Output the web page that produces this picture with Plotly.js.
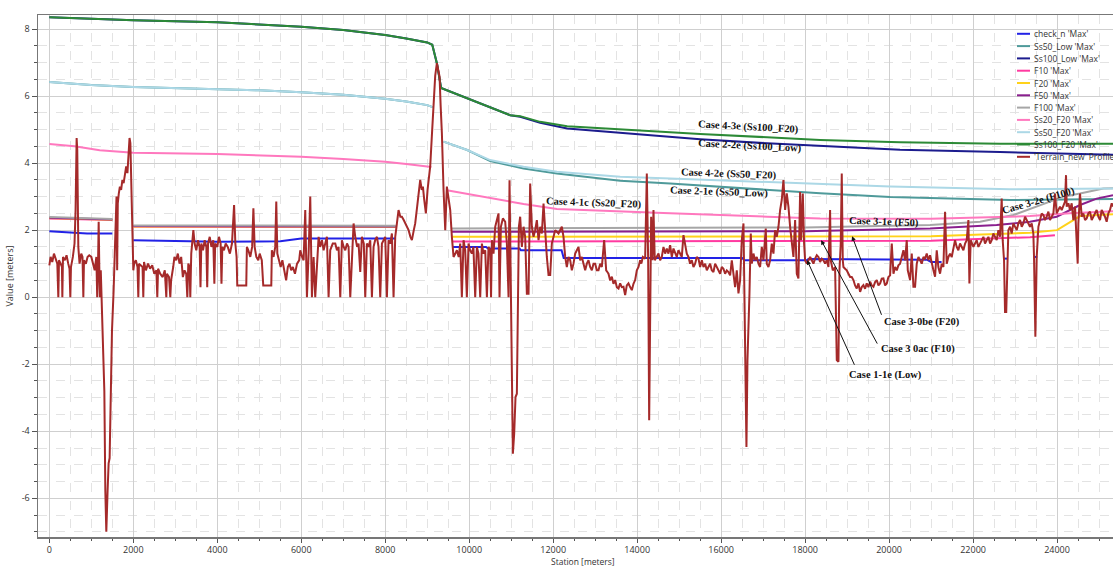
<!DOCTYPE html>
<html><head><meta charset="utf-8">
<script src="https://cdn.plot.ly/plotly-3.0.1.min.js"></script>
<style>html,body{margin:0;padding:0;background:#fff;}#chart{width:1113px;height:567px;}</style>
</head><body><div id="chart"></div>
<script>
// ---------- DATA ----------
const seriesNames = ["check_n 'Max'", "Ss50_Low 'Max'", "Ss100_Low 'Max'", "F10 'Max'", "F20 'Max'", "F50 'Max'", "F100 'Max'", "Ss20_F20 'Max'", "Ss50_F20 'Max'", "Ss100_F20 'Max'", "'Terrain_new' Profile"];
const seriesColors = ["#2222e6", "#4f9a9a", "#1c1c8e", "#ff3aa0", "#ffd21a", "#8a1f8e", "#a6a6a6", "#ff78be", "#acd8e6", "#2c8a36", "#a52a2a"];

const checkStation = [0, 650, 900, 1500, 1700, 2000, 3000, 4000, 5000, 5500, 6000, 7000, 8250, 8800, 9590, 10400, 10450, 11200, 11230, 12200, 12250, 16500, 16550, 18040, 18080, 20900, 21000, 21250, 21300, 22730, 22830, 22900, 23440, 23530];
const checkValue   = [1.97, 1.93, 1.9, 1.9, null, 1.7, 1.68, 1.65, 1.66, 1.67, 1.75, 1.75, 1.75, null, 1.5, 1.5, 1.45, 1.45, 1.4, 1.4, 1.17, 1.17, 1.1, 1.1, 1.14, 1.12, 1.05, 1.05, null, 1.15, 1.15, null, 1.2, 1.2];

const ss50Station = [0, 1000, 2000, 3000, 4000, 5000, 6000, 7000, 8000, 8500, 9000, 9130, 9250, 9389, 9952, 10500, 11294, 12088, 13595, 14786, 17643, 18357, 20024, 22881, 25333];
const ss50LowValue = [6.42, 6.33, 6.27, 6.24, 6.21, 6.17, 6.11, 6.04, 5.92, 5.84, 5.73, 5.67, null, 4.64, 4.39, 4.06, 3.84, 3.69, 3.47, 3.39, 3.16, 3.1, 2.99, 2.9, 2.93];
const ss50F20Value = [6.42, 6.33, 6.27, 6.24, 6.21, 6.17, 6.11, 6.04, 5.92, 5.84, 5.73, 5.67, null, 4.64, 4.39, 4.09, 3.89, 3.74, 3.59, 3.54, 3.41, 3.37, 3.3, 3.22, 3.24];

const ss100Station = [0, 2000, 4000, 6000, 7000, 8000, 8500, 9000, 9120, 9230, 9330, 9952, 10428, 10976, 11214, 11690, 12333, 13905, 15500, 17095, 18357, 20262, 22643, 25333];
const ss100LowValue = [8.35, 8.26, 8.2, 8.07, 7.97, 7.82, 7.72, 7.6, 7.53, 6.98, 6.24, 5.93, 5.68, 5.43, 5.38, 5.2, 5.03, 4.87, 4.71, 4.59, 4.51, 4.4, 4.33, 4.25];
const ss100F20Value = [8.35, 8.26, 8.2, 8.07, 7.97, 7.82, 7.72, 7.6, 7.53, 6.98, 6.24, 5.93, 5.68, 5.43, 5.4, 5.23, 5.1, 4.98, 4.87, 4.77, 4.69, 4.62, 4.58, 4.58];

const ss20Station = [0, 600, 1200, 2000, 4000, 6000, 7000, 8000, 8500, 9100, 9250, 9468, 10500, 11294, 12088, 13595, 14786, 17095, 18357, 21000, 23357, 24309, 25333];
const ss20F20Value = [4.57, 4.5, 4.38, 4.31, 4.27, 4.19, 4.12, 4.04, 3.97, 3.88, null, 3.19, 2.95, 2.78, 2.63, 2.55, 2.5, 2.4, 2.35, 2.34, 2.42, 2.5, 2.56];

const f10Station = [0, 1500, 1700, 2000, 8250, 8800, 9590, 21000, 23357, 23950];
const f10Value   = [2.35, 2.3, null, 2.1, 2.09, null, 1.66, 1.68, 1.79, 1.85];
const f20Station = [0, 1500, 1700, 2000, 8250, 8800, 9590, 21000, 23357, 24000, 24548, 25333];
const f20Value   = [2.36, 2.31, null, 2.11, 2.1, null, 1.8, 1.82, 1.92, 2.0, 2.42, 2.47];
const f50Station = [0, 1500, 1700, 2000, 8250, 8800, 9590, 18000, 20976, 22563, 23357, 23992, 24548, 24944, 25333];
const f50Value   = [2.37, 2.32, null, 2.12, 2.11, null, 1.95, 1.97, 2.05, 2.15, 2.25, 2.4, 2.75, 2.94, 3.04];
const f100Station = [0, 1500, 1700, 2000, 8250, 8800, 9590, 18000, 20976, 22167, 22960, 23595, 24151, 24548, 25103, 25333];
const f100Value   = [2.39, 2.33, null, 2.14, 2.13, null, 2.05, 2.08, 2.15, 2.25, 2.45, 2.75, 3.0, 3.09, 3.24, 3.25];

// terrain profile: [station, value]
const terrainProfile = [
[0,0.95],[30,1.2],[70,1.05],[110,1.3],[150,1.15],[190,1.0],[214,0],[230,1.1],[270,1.0],[300,0.9],[310,0],[325,1.2],[370,1.1],[410,1.25],[450,1.0],[480,0.85],[500,0],[515,0.9],[560,1.2],[600,1.6],[625,2.6],[650,4.75],[665,4.4],[690,1.5],[720,1.0],[760,1.3],[790,1.2],[810,0],[825,1.1],[870,1.0],[910,1.2],[950,1.25],[1000,1.2],[1040,1.0],[1080,0.8],[1120,1.2],[1140,0],[1160,1.0],[1175,2.25],[1190,0.9],[1205,0],[1225,0.8],[1240,0],[1254,0.2],[1310,-2.8],[1333,-5.76],[1357,-7.0],[1388,-5.76],[1412,-4.96],[1436,-4.8],[1469,-2.8],[1492,-1.0],[1531,0.2],
[1560,1.5],[1580,2.6],[1600,3.0],[1615,0.8],[1630,2.8],[1655,3.1],[1680,3.3],[1710,3.2],[1740,3.5],[1770,3.4],[1800,3.6],[1830,3.9],[1860,3.7],[1885,4.2],[1910,4.75],[1930,4.6],[1950,3.5],[1975,2.0],[2000,0.8],
[2020,1.0],[2060,1.1],[2100,0.9],[2119,0],[2135,1.0],[2180,0.95],[2220,0.9],[2238,0],[2255,1.05],[2300,0.8],[2350,1.0],[2400,0.85],[2450,0.95],[2500,0.7],[2550,0.8],[2571,0],[2590,0.85],[2640,0.7],[2700,0.6],[2750,0.8],[2786,0],[2800,0.7],[2850,0.6],[2881,0],[2900,0.5],[2950,0.9],[2980,1.2],[3020,1.1],[3060,1.3],[3100,1.0],[3140,1.2],[3180,0.6],[3220,0.8],[3260,0.7],[3286,0],[3310,1.0],[3340,0.9],[3357,0],[3380,1.3],[3430,2.0],[3460,1.6],[3500,1.4],[3540,1.7],[3580,1.5],[3600,0.3],[3620,1.6],[3660,1.4],[3700,1.7],[3740,1.5],[3760,0.3],[3780,1.6],[3820,1.8],[3860,1.5],[3905,1.7],[3930,0.4],[3950,1.6],[4000,1.5],[4040,1.8],[4080,1.6],[4100,0.4],[4120,1.5],[4160,1.4],[4200,1.6],[4250,1.5],[4300,1.3],[4350,1.6],[4400,2.75],[4430,1.6],[4460,1.2],[4476,0.35],[4690,0.35],[4705,1.5],[4740,1.4],[4786,1.2],[4830,1.5],[4860,2.65],[4890,1.5],[4930,1.2],[4976,1.1],[5010,1.3],[5060,1.1],[5095,0.35],[5286,0.35],[5300,1.4],[5340,1.2],[5380,1.5],[5405,2.85],[5430,1.3],[5470,1.1],[5510,0.9],[5550,1.1],[5600,0.8],[5640,0.5],[5680,0.9],[5720,1.0],[5760,0.8],[5800,0.9],[5850,0.7],[5900,1.0],[5950,1.1],
[5976,1.4],[6020,1.2],[6056,1.1],[6095,2.6],[6135,0],[6175,1.3],[6214,3.0],[6254,0],[6294,1.2],[6333,0],[6373,1.0],[6413,1.8],[6450,1.5],[6492,1.7],[6532,1.4],[6570,1.6],[6611,1.8],[6651,0],[6690,1.4],[6750,1.6],[6810,1.6],[6850,1.4],[6889,1.5],[6929,0],[6968,1.7],[7010,1.5],[7048,1.4],[7090,1.6],[7127,1.5],[7167,0],[7206,1.3],[7246,2.2],[7286,1.8],[7330,1.5],[7365,1.6],[7405,0.75],[7444,1.8],[7490,1.6],[7524,0],[7563,1.6],[7600,1.5],[7643,1.7],[7683,0],[7722,1.5],[7760,1.7],[7802,1.8],[7840,1.5],[7881,0],[7921,1.6],[7960,1.7],[8000,1.8],[8040,0],[8079,1.7],[8120,1.6],[8159,1.9],[8198,0],[8238,1.8],[8278,2.2],[8317,2.6],[8360,2.4],[8397,2.4],[8440,2.3],[8476,2.2],[8520,2.1],[8556,2.0],[8600,1.8],[8635,1.7],[8680,2.0],[8714,2.2],[8760,2.7],[8794,3.1],[8833,3.5],[8870,3.2],[8897,3.3],[8929,2.9],[8968,2.5],[9008,3.2],[9040,3.5],[9071,3.9],[9110,4.8],[9151,5.88],[9190,6.6],[9230,6.98],[9260,6.8],[9294,6.58],[9320,5.7],[9349,4.89],[9389,3.2],[9429,2.0],[9468,3.3],[9508,2.9],[9548,2.6],[9587,1.8],[9627,1.2],[9670,1.3],[9706,1.4],[9750,1.2],[9786,1.6],[9825,0],[9865,1.7],[9905,1.4],[9944,0],[9984,1.6],[10020,1.4],[10063,1.3],[10100,1.5],[10143,0],[10183,1.5],[10220,1.3],[10262,0],[10302,1.6],[10340,1.3],[10381,1.4],[10421,0],[10460,1.5],[10500,1.4],[10520,0],[10540,1.7],[10579,1.3],[10619,2.1],[10659,2.3],[10698,2.5],
[10722,0],[10754,2.1],[10802,2.35],[10857,2.25],[10897,1.6],[10937,0],[10960,3.49],[10992,0],[11016,-2.0],[11040,-4.67],[11071,-4.07],[11103,-2.98],[11135,-2.88],[11159,0.1],[11183,2.1],[11214,2.4],[11254,1.5],[11294,2.1],[11333,1.8],[11373,0.1],[11413,0.1],[11452,3.39],[11492,2.1],[11532,1.8],[11571,2.0],[11611,2.3],[11651,1.7],[11690,2.1],[11730,1.9],[11770,2.79],[11810,1.9],[11849,1.2],[11889,0.66],[11929,0.66],[11968,1.6],[12048,2.0],[12127,1.9],[12206,2.1],[12246,1.8],[12286,1.2],[12325,0.9],[12365,1.2],[12405,1.1],[12444,0.8],[12484,1.0],[12524,1.3],[12564,1.4],[12603,1.5],[12643,1.1],[12683,1.2],[12722,1.0],[12762,0.8],[12801,1.0],[12841,1.1],[12881,0.9],[12921,0.8],[12960,1.0],[13000,1.0],[13040,0.8],[13079,0.8],[13119,1.0],[13159,0.9],[13214,1.7],[13262,0.8],[13290,0.75],[13317,0.7],[13357,0.5],[13397,0.61],[13436,0.4],[13476,0.51],[13516,0.3],[13556,0.26],
[13595,0.41],[13634,0.3],[13674,0.31],[13714,0.06],[13753,0.35],[13793,0.41],[13833,0.3],[13873,0.21],[13912,0.4],[13952,0.51],[13992,0.8],[14032,0.9],[14071,1.1],[14100,1.0],[14135,1.2],[14190,1.15],[14230,3.69],[14262,1.1],[14286,-3.67],[14309,-0.49],[14333,2.4],[14365,1.1],[14389,2.6],[14420,1.1],[14468,1.2],[14508,1.3],[14547,1.1],[14587,1.2],[14627,1.5],[14666,1.3],[14706,1.45],[14745,1.3],[14785,1.55],[14825,1.2],[14865,1.45],[14905,1.3],[14944,1.2],[14984,1.4],[15024,1.3],[15063,1.2],[15103,1.85],[15143,1.5],[15182,1.3],[15222,1.2],[15261,1.0],[15301,1.1],[15341,0.9],[15381,1.0],[15420,1.2],[15460,1.15],[15500,0.9],[15540,1.1],[15579,0.9],[15619,1.0],[15659,0.8],[15698,0.9],[15738,1.0],[15777,0.8],[15817,0.75],[15857,1.0],[15897,0.9],[15936,0.8],[15976,0.7],[16015,0.9],[16055,0.85],[16095,0.7],[16135,0.8],[16174,0.75],[16214,0.65],[16254,1.1],[16294,0.6],[16333,0.3],[16373,0.8],[16413,0.11],[16452,0.51],[16492,1.7],[16532,2.2],[16556,0.11],[16579,-2.38],[16603,-4.47],[16627,-1.88],[16651,-1.09],[16675,0.11],[16706,1.9],[16730,1.0],[16770,1.3],[16809,1.1],[16849,1.2],[16889,1.0],[16928,0.9],[16968,1.5],[17008,1.1],[17063,2.05],[17087,1.0],[17127,0.9],[17166,1.1],[17206,1.6],[17246,1.3],[17286,2.0],[17325,1.8],[17365,2.1],[17405,2.6],[17444,2.9],[17484,3.49],[17524,2.6],[17563,3.1],[17603,2.7],
[17643,2.1],[17683,1.7],[17722,1.2],[17762,2.3],[17802,0.7],[17841,0.56],[17881,3.14],[17905,1.7],[17945,3.09],[17976,1.6],[18000,1.1],[18040,1.0],[18080,1.1],[18120,1.2],[18159,1.1],[18198,1.0],[18238,1.15],[18278,1.25],[18318,1.2],[18357,1.05],[18397,1.15],[18436,1.1],[18476,1.0],[18516,1.1],[18556,0.9],[18595,2.6],[18611,1.1],[18659,0.8],[18714,0.9],[18754,-1.88],[18794,-1.93],[18818,0.8],[18849,1.6],[18873,3.69],[18897,1.1],[18913,0.9],[18952,0.85],[18992,0.8],[19032,0.7],[19072,0.6],[19111,0.6],[19151,0.51],[19190,0.35],[19230,0.26],[19270,0.41],[19310,0.16],[19349,0.3],[19389,0.36],[19428,0.25],[19468,0.41],[19508,0.3],[19548,0.46],[19587,0.35],[19627,0.31],[19667,0.45],[19707,0.51],[19746,0.35],[19786,0.41],[19825,0.55],[19865,0.56],[19905,0.35],[19945,0.41],[19984,0.6],[20024,0.65],[20064,1.6],[20104,0.7],[20143,0.9],[20183,0.8],[20222,0.95],[20262,1.0],[20302,1.2],[20342,1.4],[20381,1.1],[20421,1.7],[20445,0.8],[20500,0.51],[20540,1.3],[20580,0.31],[20619,0.31],[20659,1.0],[20699,1.2],[20738,1.1],[20778,1.0],[20818,1.2],[20857,1.15],[20897,1.3],[20936,1.1],[20976,1.25],
[21015,1.0],[21055,0.81],[21095,0.61],[21135,1.4],[21174,0.9],[21214,0.7],[21254,1.0],[21294,0.9],[21333,2.55],[21373,1.0],[21413,1.2],[21452,1.3],[21492,1.2],[21532,1.5],[21571,1.7],[21611,1.5],[21650,1.4],[21690,1.6],[21730,1.5],[21770,1.4],[21810,1.6],[21849,1.7],[21889,2.3],[21913,0.41],[21944,1.7],[22008,1.5],[22047,1.6],[22087,1.7],[22127,1.5],[22167,1.6],[22206,1.7],[22246,1.8],[22285,1.6],[22325,1.7],[22365,1.8],[22405,1.6],[22444,1.7],[22484,1.9],[22524,1.8],[22563,1.7],[22603,2.0],[22643,1.8],[22682,2.94],[22706,1.7],[22738,1.1],[22762,-0.44],[22790,-0.44],[22817,1.2],[22841,2.0],[22881,2.1],[22920,1.9],[22960,2.2],[23000,2.1],[23040,2.0],[23079,2.2],[23119,2.3],[23159,2.1],[23198,2.2],[23238,2.4],[23278,2.3],[23317,2.2],[23357,2.1],[23397,2.2],[23436,1.9],[23452,1.2],[23484,-1.18],[23516,1.2],[23556,2.1],[23595,2.3],[23635,2.5],[23675,2.45],[23714,2.3],[23754,2.4],[23794,2.55],[23833,2.3],[23873,2.4],[23913,2.5],[23952,3.09],[23992,2.5],[24031,2.6],[24071,2.7],[24111,2.6],[24151,2.75],[24190,2.85],[24214,3.64],[24230,2.7],[24270,2.8],[24309,2.6],[24349,2.8],[24389,2.3],[24429,2.7],[24468,1.6],[24492,1.0],[24508,2.2],[24548,3.09],[24587,2.4],[24627,2.5],[24667,2.3],[24706,2.35],[24746,2.5],[24786,2.55],[24825,2.3],[24865,2.4],[24905,2.5],[24944,2.6],[24984,2.4],[25024,2.3],[25063,2.6],[25103,2.5],[25142,2.4],[25182,2.25],[25222,2.5],[25262,2.6],[25302,2.8],[25340,2.7]
];

const xTickVals = [0, 2000, 4000, 6000, 8000, 10000, 12000, 14000, 16000, 18000, 20000, 22000, 24000];
const xTickText = ["0", "2000", "4000", "6000", "8000", "10000", "12000", "14000", "16000", "18000", "20000", "22000", "24000"];
const yTickVals = [-6, -4, -2, 0, 2, 4, 6, 8];
const yTickText = ["-6", "-4", "-2", "0", "2", "4", "6", "8"];

const caseLabels = ["Case 4-3e (Ss100_F20)", "Case 2-2e (Ss100_Low)", "Case 4-2e (Ss50_F20)", "Case 2-1e (Ss50_Low)", "Case 4-1c (Ss20_F20)", "Case 3-1e (F50)", "Case 3-2e (F100)", "Case 3-0be (F20)", "Case 3 0ac (F10)", "Case 1-1e (Low)"];
const caseStation = [16643, 16690, 16190, 15952, 12976, 19881, 23548, 20786, 20690, 19905];
const caseValue = [5.07, 4.51, 3.67, 3.13, 2.81, 2.24, 2.87, -0.75, -1.55, -2.33];
const caseAngle = [3, 3, 2, 2, 2, 2, -16, 0, 0, 0];

// arrows: tip and tail in data units
const arrowTipStation = [19119, 18381, 18048];
const arrowTipValue = [1.82, 1.70, 1.10];
const arrowTailStation = [19833, 19738, 19190];
const arrowTailValue = [-0.57, -1.43, -2.06];

// ---------- BUILD ----------
const seriesX = [checkStation, ss50Station, ss100Station, f10Station, f20Station, f50Station, f100Station, ss20Station, ss50Station, ss100Station, terrainProfile.map(p => p[0])];
const seriesY = [checkValue, ss50LowValue, ss100LowValue, f10Value, f20Value, f50Value, f100Value, ss20F20Value, ss50F20Value, ss100F20Value, terrainProfile.map(p => p[1])];

const traces = seriesNames.map((n, i) => ({
  type: 'scatter', mode: 'lines', name: n,
  x: seriesX[i], y: seriesY[i],
  line: {color: seriesColors[i], width: 2},
  connectgaps: false, hoverinfo: 'skip'
}));

const L = 38, R = 1113, T = 15, B = 537;
const pw = R - L, ph = B - T;
const shapes = [];
const annotations = [];
seriesNames.forEach((n, i) => {
  const py = 33.8 + 12.3 * i;
  const yp = (B - py) / ph;
  shapes.push({type: 'line', xref: 'paper', yref: 'paper', x0: (1017 - L) / pw, x1: (1030 - L) / pw, y0: yp, y1: yp, line: {color: seriesColors[i], width: 2}});
  annotations.push({xref: 'paper', yref: 'paper', x: (1032 - L) / pw, y: yp, text: n, showarrow: false, xanchor: 'left', yanchor: 'middle', font: {family: 'Open Sans, sans-serif', size: 8.5, color: '#333'}});
});
caseLabels.forEach((t, i) => {
  annotations.push({xref: 'x', yref: 'y', x: caseStation[i], y: caseValue[i], text: t, showarrow: false, textangle: caseAngle[i],
    font: {family: 'Liberation Serif, Times New Roman, serif', size: 10.5, color: '#111', weight: 'bold'}});
});
arrowTipStation.forEach((s, i) => {
  annotations.push({xref: 'x', yref: 'y', x: s, y: arrowTipValue[i], axref: 'x', ayref: 'y', ax: arrowTailStation[i], ay: arrowTailValue[i],
    text: '', showarrow: true, arrowhead: 2, arrowsize: 0.9, arrowwidth: 1, arrowcolor: '#111', standoff: 0});
});
// x-axis title placed just below the tick labels
annotations.push({xref: 'paper', yref: 'paper', x: (583 - L) / pw, y: (B - 561.5) / ph, text: 'Station [meters]', showarrow: false,
  xanchor: 'center', yanchor: 'middle', borderpad: 0, font: {family: 'Open Sans, sans-serif', size: 8.5, color: '#333'}});

const layout = {
  width: 1113, height: 567,
  margin: {l: L, r: 1113 - R, t: T, b: 567 - B, pad: 0},
  paper_bgcolor: '#ffffff', plot_bgcolor: '#ffffff',
  showlegend: false,
  font: {family: 'Open Sans, sans-serif', size: 9, color: '#333'},
  xaxis: {
    range: [-270, 25333], tickmode: 'array', tickvals: xTickVals, ticktext: xTickText,
    ticks: 'outside', ticklen: 4, tickcolor: '#555', tickwidth: 1,
    showline: true, linecolor: '#777', linewidth: 1.5, mirror: true,
    showgrid: true, gridcolor: '#cfcfcf', gridwidth: 1, zeroline: false,
    minor: {tickmode: 'linear', tick0: 0, dtick: 500, ticks: 'outside', ticklen: 2.5, tickcolor: '#555', showgrid: true, gridcolor: '#e3e3e3', griddash: 'dash'},
    tickfont: {size: 9, color: '#333'},
    automargin: false
  },
  yaxis: {
    range: [-7.155, 8.418], tickmode: 'array', tickvals: yTickVals, ticktext: yTickText,
    ticks: 'outside', ticklen: 5, tickcolor: '#555', tickwidth: 1,
    showline: true, linecolor: '#777', linewidth: 1.5, mirror: false,
    showgrid: true, gridcolor: '#cfcfcf', gridwidth: 1, zeroline: false,
    minor: {tickmode: 'linear', tick0: 0, dtick: 0.5, ticks: 'outside', ticklen: 3, tickcolor: '#555', showgrid: true, gridcolor: '#e3e3e3', griddash: 'dash'},
    tickfont: {size: 9, color: '#333'},
    title: {text: 'Value [meters]', font: {size: 9, color: '#333'}, standoff: 6},
    automargin: false
  },
  shapes: shapes,
  annotations: annotations
};

Plotly.newPlot('chart', traces, layout, {staticPlot: true, displayModeBar: false});
</script>
</body></html>
